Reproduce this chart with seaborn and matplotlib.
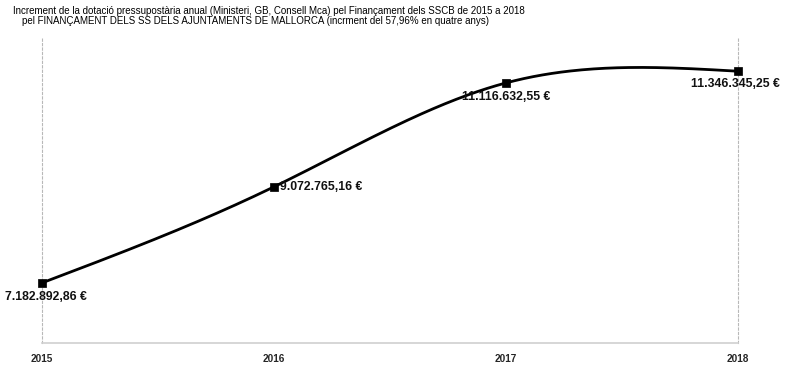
import numpy as np
import pandas as pd
import matplotlib
matplotlib.use("Agg")
import matplotlib.pyplot as plt
import seaborn as sns

# Dades
anys = [2015, 2016, 2017, 2018]
imports = [7182892.86, 9072765.16, 11116632.55, 11346345.25]
etiquetes = ["7.182.892,86 €", "9.072.765,16 €", "11.116.632,55 €", "11.346.345,25 €"]
titol_1 = "Increment de la dotació pressupostària anual (Ministeri, GB, Consell Mca) pel Finançament dels SSCB de 2015 a 2018"
titol_2 = "pel FINANÇAMENT DELS SS DELS AJUNTAMENTS DE MALLORCA (incrment del 57,96% en quatre anys)"

sns.set_style("white")
plt.rcParams["font.family"] = ["Liberation Sans", "DejaVu Sans"]


# corba suau (spline cúbica natural) per dibuixar la línia
def spline_natural(x, y, n=300):
    x = np.asarray(x, float)
    y = np.asarray(y, float)
    k = len(x)
    h = np.diff(x)
    A = np.zeros((k, k))
    b = np.zeros(k)
    A[0, 0] = A[-1, -1] = 1
    for i in range(1, k - 1):
        A[i, i - 1] = h[i - 1]
        A[i, i] = 2 * (h[i - 1] + h[i])
        A[i, i + 1] = h[i]
        b[i] = 3 * ((y[i + 1] - y[i]) / h[i] - (y[i] - y[i - 1]) / h[i - 1])
    c = np.linalg.solve(A, b)
    xs = np.linspace(x[0], x[-1], n)
    ys = np.empty_like(xs)
    for j, xv in enumerate(xs):
        i = min(np.searchsorted(x, xv, side="right") - 1, k - 2)
        dx = xv - x[i]
        bi = (y[i + 1] - y[i]) / h[i] - h[i] * (2 * c[i] + c[i + 1]) / 3
        di = (c[i + 1] - c[i]) / (3 * h[i])
        ys[j] = y[i] + bi * dx + c[i] * dx ** 2 + di * dx ** 3
    return xs, ys


xs, ys = spline_natural(anys, imports)
corba = pd.DataFrame({"any": xs, "import": ys})
punts = pd.DataFrame({"any": anys, "import": imports})

fig = plt.figure(figsize=(7.86, 3.75), dpi=100)
ax = fig.add_axes([42 / 786, 32 / 375, 696 / 786, 305 / 375])

sns.lineplot(data=corba, x="any", y="import", color="black", linewidth=2, ax=ax)
sns.scatterplot(data=punts, x="any", y="import", marker="s", color="black", s=40,
                edgecolor="black", zorder=5, clip_on=False, ax=ax)

ax.set_xlim(2015, 2018)
ax.set_ylim(6000000, 12000000)
ax.set_xticks(anys)
ax.set_xticklabels([str(a) for a in anys], fontsize=7.2, fontweight="bold")
ax.set_yticks([])
ax.set_xlabel("")
ax.set_ylabel("")
ax.tick_params(axis="x", length=4, color="#b0b0b0", pad=4)

ax.spines["top"].set_visible(False)
ax.spines["bottom"].set_color("#d0d0d0")
ax.spines["bottom"].set_linewidth(1.2)
for s in ["left", "right"]:
    ax.spines[s].set_color("#b8b8b8")
    ax.spines[s].set_linestyle((0, (2, 2)))
    ax.spines[s].set_linewidth(0.8)

# etiquetes de valors
offs = [(3, -10, "center"), (4, 0, "left"), (0, -10, "center"), (-2, -9, "center")]
for a, v, t, (dx, dy, ha) in zip(anys, imports, etiquetes, offs):
    ax.annotate(t, (a, v), xytext=(dx, dy), textcoords="offset points",
                ha=ha, va="center", fontsize=8.8, fontweight="bold", color="#111111")

fig.text(13 / 786, 1 - 11 / 375, titol_1, ha="left", va="center", fontsize=7.05,
         color="black")
fig.text(22 / 786, 1 - 21 / 375, titol_2, ha="left", va="center", fontsize=7.05,
         color="black")

fig.savefig("out.png", dpi=100)
